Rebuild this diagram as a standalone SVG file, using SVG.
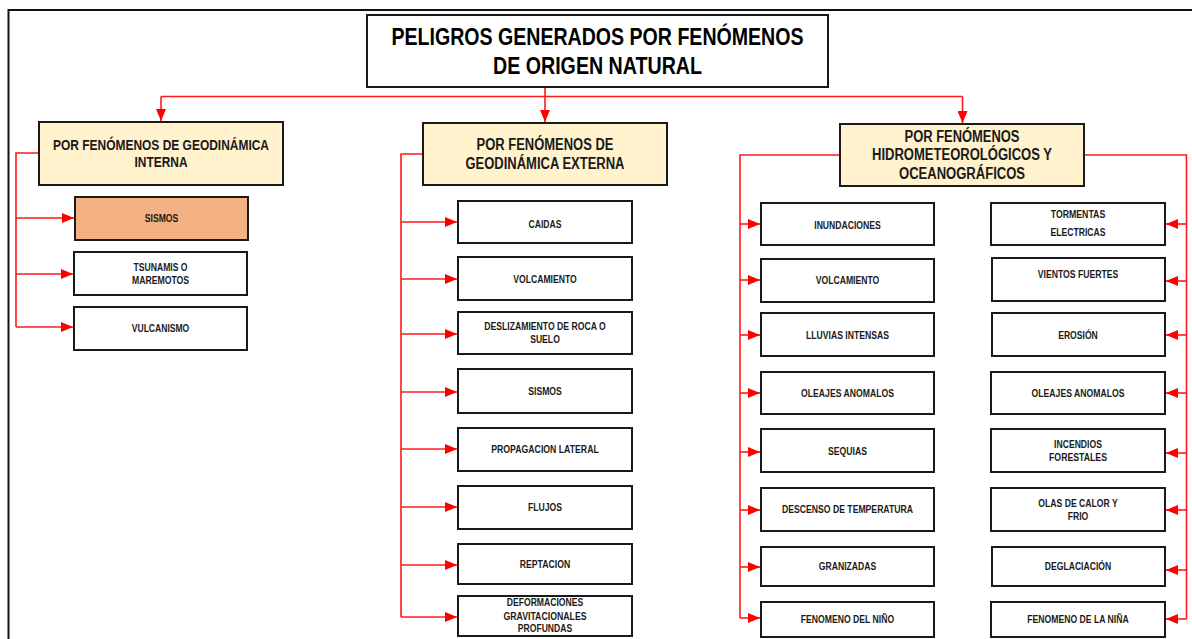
<svg xmlns="http://www.w3.org/2000/svg" width="1192" height="639" viewBox="0 0 1192 639">
<style>
text{font-family:"Liberation Sans",Arial,sans-serif;font-weight:bold;fill:#1a1a1a;text-anchor:middle}
.t{font-size:24px;fill:#000}
.h{font-size:14.6px}
.h2{font-size:15.8px}
.i{font-size:10.5px}
.box{fill:#fff;stroke:#1a1a1a;stroke-width:2}
.hd{fill:#FFF2CC;stroke:#1a1a1a;stroke-width:2}
.or{fill:#F4B183;stroke:#1a1a1a;stroke-width:2}
.c{fill:none;stroke:#ff1a1a;stroke-width:1.6}
</style>
<defs>
<marker id="ah" viewBox="0 0 12 10" refX="12" refY="5" markerWidth="12" markerHeight="10" markerUnits="userSpaceOnUse" orient="auto"><path d="M0,0 L12,5 L0,10 z" fill="#ff0000"/></marker>
</defs>
<rect width="1192" height="639" fill="#fff"/>
<path d="M8.5,639 V10 H1192" fill="none" stroke="#111" stroke-width="2"/>

<g id="connectors">
<path class="c" d="M545,87 V122" marker-end="url(#ah)"/>
<path class="c" d="M161,96.5 H962.5"/>
<path class="c" d="M161,96.5 V121" marker-end="url(#ah)"/>
<path class="c" d="M962.5,96.5 V123" marker-end="url(#ah)"/>
<path class="c" d="M39,153 H16 V327"/>
<path class="c" d="M16,218 H74" marker-end="url(#ah)"/>
<path class="c" d="M16,274 H73" marker-end="url(#ah)"/>
<path class="c" d="M16,327 H73" marker-end="url(#ah)"/>
<path class="c" d="M423,154 H401 V617"/>
<path class="c" d="M401,222 H457" marker-end="url(#ah)"/>
<path class="c" d="M401,279 H457" marker-end="url(#ah)"/>
<path class="c" d="M401,334 H457" marker-end="url(#ah)"/>
<path class="c" d="M401,392 H457" marker-end="url(#ah)"/>
<path class="c" d="M401,449 H457" marker-end="url(#ah)"/>
<path class="c" d="M401,507 H457" marker-end="url(#ah)"/>
<path class="c" d="M401,565 H457" marker-end="url(#ah)"/>
<path class="c" d="M401,617 H457" marker-end="url(#ah)"/>
<path class="c" d="M840,155 H740 V618"/>
<path class="c" d="M740,224 H760" marker-end="url(#ah)"/>
<path class="c" d="M740,280 H760" marker-end="url(#ah)"/>
<path class="c" d="M740,335 H760" marker-end="url(#ah)"/>
<path class="c" d="M740,393 H760" marker-end="url(#ah)"/>
<path class="c" d="M740,452 H760" marker-end="url(#ah)"/>
<path class="c" d="M740,510 H760" marker-end="url(#ah)"/>
<path class="c" d="M740,567 H760" marker-end="url(#ah)"/>
<path class="c" d="M740,618 H760" marker-end="url(#ah)"/>
<path class="c" d="M1084,155 H1186.5 V619"/>
<path class="c" d="M1186.5,224 H1166" marker-end="url(#ah)"/>
<path class="c" d="M1186.5,281 H1166" marker-end="url(#ah)"/>
<path class="c" d="M1186.5,335 H1166" marker-end="url(#ah)"/>
<path class="c" d="M1186.5,393 H1166" marker-end="url(#ah)"/>
<path class="c" d="M1186.5,453 H1166" marker-end="url(#ah)"/>
<path class="c" d="M1186.5,510 H1166" marker-end="url(#ah)"/>
<path class="c" d="M1186.5,570 H1166" marker-end="url(#ah)"/>
<path class="c" d="M1186.5,619 H1166" marker-end="url(#ah)"/>
</g>

<g id="title"><rect class="box" x="367" y="15" width="461" height="72"/>
<text class="t" x="597.5" y="45" textLength="412" lengthAdjust="spacingAndGlyphs">PELIGROS GENERADOS POR FENÓMENOS</text>
<text class="t" x="597.5" y="74" textLength="209" lengthAdjust="spacingAndGlyphs">DE ORIGEN NATURAL</text></g>

<g id="h-interna"><rect class="hd" x="39" y="122" width="244" height="63"/>
<text class="h" x="161" y="150" textLength="216" lengthAdjust="spacingAndGlyphs">POR FENÓMENOS DE GEODINÁMICA</text>
<text class="h" x="161" y="167" textLength="53" lengthAdjust="spacingAndGlyphs">INTERNA</text></g>
<g id="h-externa"><rect class="hd" x="423" y="123" width="244" height="62"/>
<text class="h2" x="545" y="150" textLength="137" lengthAdjust="spacingAndGlyphs">POR FENÓMENOS DE</text>
<text class="h2" x="545" y="169" textLength="159" lengthAdjust="spacingAndGlyphs">GEODINÁMICA EXTERNA</text></g>
<g id="h-hidro"><rect class="hd" x="840" y="124" width="244" height="62"/>
<text class="h2" x="962" y="142" textLength="115" lengthAdjust="spacingAndGlyphs">POR FENÓMENOS</text>
<text class="h2" x="962" y="160" textLength="180" lengthAdjust="spacingAndGlyphs">HIDROMETEOROLÓGICOS Y</text>
<text class="h2" x="962" y="179" textLength="126" lengthAdjust="spacingAndGlyphs">OCEANOGRÁFICOS</text></g>

<g id="i-sismos1"><rect class="or" x="75" y="197" width="173" height="43"/><text class="i" x="161.5" y="222" textLength="33.5" lengthAdjust="spacingAndGlyphs">SISMOS</text></g>
<g id="i-tsunamis"><rect class="box" x="74" y="252" width="173" height="43"/><text class="i" x="160.5" y="271" textLength="54" lengthAdjust="spacingAndGlyphs">TSUNAMIS O</text><text class="i" x="160.5" y="283.5" textLength="57" lengthAdjust="spacingAndGlyphs">MAREMOTOS</text></g>
<g id="i-vulcanismo"><rect class="box" x="74" y="307" width="173" height="43"/><text class="i" x="160.5" y="332" textLength="57.5" lengthAdjust="spacingAndGlyphs">VULCANISMO</text></g>

<g id="i-caidas"><rect class="box" x="458" y="201" width="174" height="42"/><text class="i" x="545" y="227.5" textLength="33" lengthAdjust="spacingAndGlyphs">CAIDAS</text></g>
<g id="i-volcamiento1"><rect class="box" x="458" y="257" width="174" height="43"/><text class="i" x="545" y="282.5" textLength="63.6" lengthAdjust="spacingAndGlyphs">VOLCAMIENTO</text></g>
<g id="i-deslizamiento"><rect class="box" x="458" y="312" width="174" height="42"/><text class="i" x="545" y="330" textLength="121.5" lengthAdjust="spacingAndGlyphs">DESLIZAMIENTO DE ROCA O</text><text class="i" x="545" y="343" textLength="29.7" lengthAdjust="spacingAndGlyphs">SUELO</text></g>
<g id="i-sismos2"><rect class="box" x="458" y="369" width="174" height="44"/><text class="i" x="545" y="394.5" textLength="33.5" lengthAdjust="spacingAndGlyphs">SISMOS</text></g>
<g id="i-propagacion"><rect class="box" x="458" y="428" width="174" height="43"/><text class="i" x="545" y="453" textLength="107.5" lengthAdjust="spacingAndGlyphs">PROPAGACION LATERAL</text></g>
<g id="i-flujos"><rect class="box" x="458" y="486" width="174" height="43"/><text class="i" x="545" y="511" textLength="34" lengthAdjust="spacingAndGlyphs">FLUJOS</text></g>
<g id="i-reptacion"><rect class="box" x="458" y="544" width="174" height="40"/><text class="i" x="545" y="567.5" textLength="50.7" lengthAdjust="spacingAndGlyphs">REPTACION</text></g>
<g id="i-deformaciones"><rect class="box" x="458" y="596" width="174" height="40"/><text class="i" x="545" y="606" textLength="76.5" lengthAdjust="spacingAndGlyphs">DEFORMACIONES</text><text class="i" x="545" y="619.5" textLength="83.2" lengthAdjust="spacingAndGlyphs">GRAVITACIONALES</text><text class="i" x="545" y="632" textLength="54.5" lengthAdjust="spacingAndGlyphs">PROFUNDAS</text></g>

<g id="i-inundaciones"><rect class="box" x="761" y="203" width="173" height="42"/><text class="i" x="847.5" y="228.5" textLength="66.5" lengthAdjust="spacingAndGlyphs">INUNDACIONES</text></g>
<g id="i-volcamiento2"><rect class="box" x="761" y="259" width="173" height="43"/><text class="i" x="847.5" y="283.5" textLength="63.6" lengthAdjust="spacingAndGlyphs">VOLCAMIENTO</text></g>
<g id="i-lluvias"><rect class="box" x="761" y="313" width="173" height="43"/><text class="i" x="847.5" y="338.5" textLength="82.8" lengthAdjust="spacingAndGlyphs">LLUVIAS INTENSAS</text></g>
<g id="i-oleajes1"><rect class="box" x="761" y="372" width="173" height="42"/><text class="i" x="847.5" y="396.5" textLength="92.8" lengthAdjust="spacingAndGlyphs">OLEAJES ANOMALOS</text></g>
<g id="i-sequias"><rect class="box" x="761" y="429" width="173" height="43"/><text class="i" x="847.5" y="454.5" textLength="38.8" lengthAdjust="spacingAndGlyphs">SEQUIAS</text></g>
<g id="i-descenso"><rect class="box" x="761" y="488" width="173" height="43"/><text class="i" x="847.5" y="513" textLength="131" lengthAdjust="spacingAndGlyphs">DESCENSO DE TEMPERATURA</text></g>
<g id="i-granizadas"><rect class="box" x="761" y="547" width="173" height="39"/><text class="i" x="847.5" y="569.5" textLength="57.4" lengthAdjust="spacingAndGlyphs">GRANIZADAS</text></g>
<g id="i-nino"><rect class="box" x="761" y="602" width="173" height="35"/><text class="i" x="847.5" y="622.5" textLength="93.3" lengthAdjust="spacingAndGlyphs">FENOMENO DEL NIÑO</text></g>

<g id="i-tormentas"><rect class="box" x="991" y="203" width="174" height="42"/><text class="i" x="1078" y="217.5" textLength="54.5" lengthAdjust="spacingAndGlyphs">TORMENTAS</text><text class="i" x="1078" y="236" textLength="55" lengthAdjust="spacingAndGlyphs">ELECTRICAS</text></g>
<g id="i-vientos"><rect class="box" x="992" y="258" width="173" height="43"/><text class="i" x="1078" y="277.5" textLength="80.4" lengthAdjust="spacingAndGlyphs">VIENTOS FUERTES</text></g>
<g id="i-erosion"><rect class="box" x="992" y="313" width="173" height="43"/><text class="i" x="1078" y="338.5" textLength="39.7" lengthAdjust="spacingAndGlyphs">EROSIÓN</text></g>
<g id="i-oleajes2"><rect class="box" x="991" y="372" width="174" height="42"/><text class="i" x="1078" y="396.5" textLength="92.8" lengthAdjust="spacingAndGlyphs">OLEAJES ANOMALOS</text></g>
<g id="i-incendios"><rect class="box" x="991" y="429" width="174" height="43"/><text class="i" x="1078" y="447.5" textLength="47.8" lengthAdjust="spacingAndGlyphs">INCENDIOS</text><text class="i" x="1078" y="461" textLength="57.9" lengthAdjust="spacingAndGlyphs">FORESTALES</text></g>
<g id="i-olas"><rect class="box" x="991" y="488" width="174" height="43"/><text class="i" x="1078" y="507" textLength="79.4" lengthAdjust="spacingAndGlyphs">OLAS DE CALOR Y</text><text class="i" x="1078" y="519.5" textLength="20.6" lengthAdjust="spacingAndGlyphs">FRIO</text></g>
<g id="i-deglaciacion"><rect class="box" x="992" y="547" width="173" height="39"/><text class="i" x="1078" y="569.5" textLength="66.5" lengthAdjust="spacingAndGlyphs">DEGLACIACIÓN</text></g>
<g id="i-nina"><rect class="box" x="991" y="602" width="174" height="35"/><text class="i" x="1078" y="622.5" textLength="101.4" lengthAdjust="spacingAndGlyphs">FENOMENO DE LA NIÑA</text></g>
</svg>
